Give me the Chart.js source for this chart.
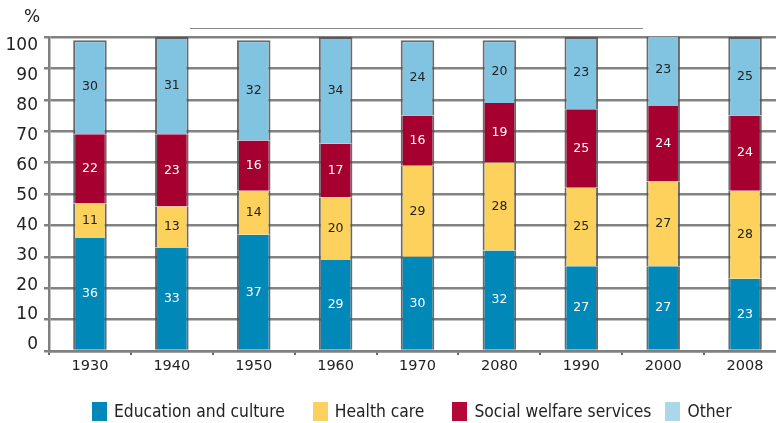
<!DOCTYPE html>
<html>
<head>
<meta charset="utf-8">
<script src="https://cdn.jsdelivr.net/npm/chart.js@4/dist/chart.umd.min.js"></script>
<style>
  html, body { margin: 0; padding: 0; background: #fff; overflow: hidden; }
  #wrap { position: relative; width: 830px; height: 423px; }
  #pct { position: absolute; left: 24px; top: 6px; font: 17px 'DejaVu Sans', sans-serif; color: #222; }
  #rule { position: absolute; left: 190px; top: 28px; width: 453px; border-top: 1px solid #8a8a8a; }
  #legend { position: absolute; left: 92px; top: 401px; display: flex; align-items: center;
            font: 17.3px 'DejaVu Sans Condensed', 'DejaVu Sans', sans-serif; color: #222; white-space: nowrap; }
  #legend span.box { display: inline-block; width: 15px; height: 19px; margin-right: 7px; }
  #legend span.item { display: flex; align-items: center; }
</style>
</head>
<body>
<div id="wrap">
  <canvas id="barChart" width="830" height="423"></canvas>
  <div id="pct">%</div>
  <div id="rule"></div>
  <div id="legend"></div>
</div>
<script>
// Spending shares by decade (per cent)
const years = ['1930', '1940', '1950', '1960', '1970', '2080', '1990', '2000', '2008'];
const education = [36, 33, 37, 29, 30, 32, 27, 27, 23];
const health = [11, 13, 14, 20, 29, 28, 25, 27, 28];
const welfare = [22, 23, 16, 17, 16, 19, 25, 24, 24];
const other = [30, 31, 32, 34, 24, 20, 23, 23, 25];
const yTicks = [0, 10, 20, 30, 40, 50, 60, 70, 80, 90, 100];

const edge = 'rgba(80,80,80,0.85)';
const sides = {left: 2, right: 2, top: 0, bottom: 0};

// value labels in the middle of each segment
const segmentLabels = {
  id: 'segmentLabels',
  afterDatasetsDraw(chart) {
    const ctx = chart.ctx;
    ctx.save();
    ctx.font = '12.5px "DejaVu Sans", sans-serif';
    ctx.textAlign = 'center';
    ctx.textBaseline = 'middle';
    chart.data.datasets.forEach((ds, i) => {
      chart.getDatasetMeta(i).data.forEach((bar, j) => {
        const p = bar.getProps(['x', 'y', 'base'], true);
        ctx.fillStyle = ds.labelColor;
        ctx.fillText(ds.data[j], p.x, (p.y + p.base) / 2);
      });
    });
    ctx.restore();
  }
};

// y labels sit on a slightly tighter ladder than the grid lines
const yLabels = {
  id: 'yLabels',
  afterDraw(chart) {
    const y = chart.scales.y;
    const ctx = chart.ctx;
    ctx.save();
    ctx.font = '17px "DejaVu Sans", sans-serif';
    ctx.fillStyle = '#222';
    ctx.textAlign = 'right';
    ctx.textBaseline = 'middle';
    yTicks.forEach(v => {
      const py = y.top + 9 + (y.getPixelForValue(v) - y.top) * 0.952;
      ctx.fillText(String(v), y.right - 11, py);
    });
    ctx.restore();
  }
};

const ctx = document.getElementById('barChart').getContext('2d');
const chart = new Chart(ctx, {
  type: 'bar',
  data: {
    labels: years,
    datasets: [
      {label: 'Education and culture', data: education, backgroundColor: '#0088b9', legendColor: '#0088bb', labelColor: '#ffffff', borderColor: edge, borderWidth: sides},
      {label: 'Health care', data: health, backgroundColor: '#fdd25c', legendColor: '#ffd060', labelColor: '#222222', borderColor: edge, borderWidth: sides},
      {label: 'Social welfare services', data: welfare, backgroundColor: '#a50030', legendColor: '#b5083a', labelColor: '#ffffff', borderColor: edge, borderWidth: sides},
      {label: 'Other', data: other, backgroundColor: '#80c4e2', legendColor: '#aad7ea', labelColor: '#222222', borderColor: edge, borderWidth: {left: 2, right: 2, top: 2, bottom: 0}}
    ]
  },
  options: {
    responsive: false,
    animation: false,
    barPercentage: 0.41,
    categoryPercentage: 1,
    layout: {padding: {top: 37, right: 44, left: 0, bottom: 42}},
    plugins: {
      tooltip: {enabled: false},
      legend: {display: false}
    },
    scales: {
      x: {
        stacked: true,
        afterFit(scale) {
          scale.height = 30;
        },
        grid: {display: true, drawOnChartArea: false, drawTicks: true, tickLength: 4, color: '#666', lineWidth: 2, offset: true},
        border: {color: '#808080', width: 2.5},
        ticks: {color: '#222', font: {family: '"DejaVu Sans", sans-serif', size: 14.5}, padding: 3}
      },
      y: {
        stacked: true,
        min: 0,
        max: 100,
        afterBuildTicks(scale) {
          scale.ticks = yTicks.map(v => ({value: v}));
        },
        afterFit(scale) {
          scale.width = 49;
        },
        grid: {color: '#828282', lineWidth: 2.5, tickLength: 5},
        border: {color: '#808080', width: 2.5},
        ticks: {display: false}
      }
    }
  },
  plugins: [segmentLabels, yLabels]
});

// legend row built from the datasets
const legendGaps = [28, 28, 14, 0];
const legendEl = document.getElementById('legend');
chart.data.datasets.forEach((ds, i) => {
  const item = document.createElement('span');
  item.className = 'item';
  item.style.marginRight = legendGaps[i] + 'px';
  const box = document.createElement('span');
  box.className = 'box';
  box.style.background = ds.legendColor;
  item.appendChild(box);
  item.appendChild(document.createTextNode(ds.label));
  legendEl.appendChild(item);
});
</script>
</body>
</html>
